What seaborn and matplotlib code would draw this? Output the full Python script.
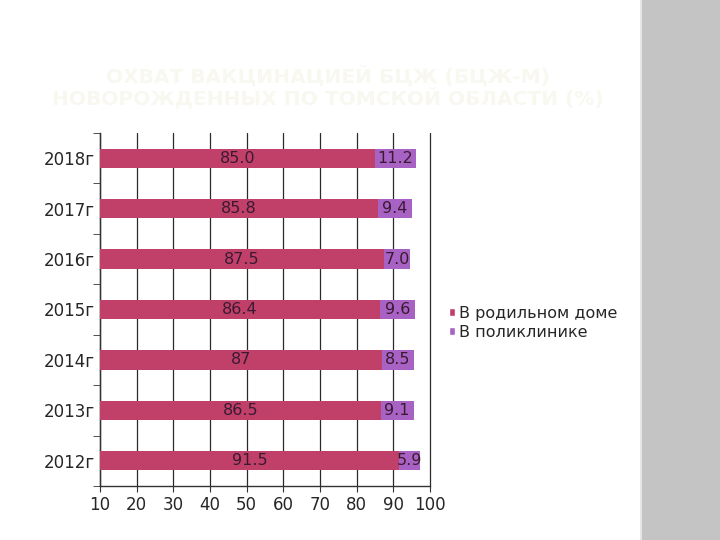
import matplotlib
matplotlib.use("Agg")
import matplotlib.pyplot as plt
import seaborn as sns
import pandas as pd
from matplotlib.patches import Rectangle, Patch
from matplotlib.ticker import FixedLocator

years = ["2018г", "2017г", "2016г", "2015г", "2014г", "2013г", "2012г"]
maternity = [85.0, 85.8, 87.5, 86.4, 87, 86.5, 91.5]
maternity_labels = ["85.0", "85.8", "87.5", "86.4", "87", "86.5", "91.5"]
clinic = [11.2, 9.4, 7.0, 9.6, 8.5, 9.1, 5.9]
clinic_labels = ["11.2", "9.4", "7.0", "9.6", "8.5", "9.1", "5.9"]
series_names = ["В родильном доме", "В поликлинике"]
title_text = "ОХВАТ ВАКЦИНАЦИЕЙ БЦЖ (БЦЖ-М)\nНОВОРОЖДЕННЫХ ПО ТОМСКОЙ ОБЛАСТИ (%)"

sns.set_style("white")
plt.rcParams["font.family"] = ["DejaVu Sans"]

c1 = "#c0406a"
c2 = "#a862c4"

fig = plt.figure(figsize=(7.2, 5.4), dpi=100)
fig.patch.set_facecolor("white")

# decorative gray panel on right
fig.patches.append(Rectangle((642/720, 0), 78/720, 1, transform=fig.transFigure,
                             facecolor="#c4c4c4", edgecolor="none", zorder=0))
fig.patches.append(Rectangle((640/720, 0), 2/720, 1, transform=fig.transFigure,
                             facecolor="#e6e6e6", edgecolor="none", zorder=0))

ax = fig.add_axes([100/720, 1 - 486/540, 330/720, 353/540])

df = pd.DataFrame({"year": years, "m": maternity, "total": [a + b for a, b in zip(maternity, clinic)]})
sns.barplot(data=df, y="year", x="total", color=c2, width=0.38, ax=ax, saturation=1,
            linewidth=0, zorder=2)
sns.barplot(data=df, y="year", x="m", color=c1, width=0.38, ax=ax, saturation=1,
            linewidth=0, zorder=3)

for i, (m, c, ml, cl) in enumerate(zip(maternity, clinic, maternity_labels, clinic_labels)):
    ax.text((10 + m) / 2, i, ml, ha="center", va="center", fontsize=11.5, color="#3a1a30", zorder=5)
    ax.text(m + c / 2, i, cl, ha="center", va="center", fontsize=11.5, color="#3a1a30", zorder=5)

ax.set_xlim(10, 100)
ax.set_ylim(6.5, -0.5)
ax.set_xticks(range(10, 101, 10))
ax.set_xlabel("")
ax.set_ylabel("")
ax.tick_params(axis="x", labelsize=12, length=4, direction="out", color="#333333", bottom=True)
ax.tick_params(axis="y", which="major", length=0, labelsize=12, pad=4)
ax.yaxis.set_minor_locator(FixedLocator([i - 0.5 for i in range(8)]))
ax.tick_params(axis="y", which="minor", length=5, left=True, color="#333333")
ax.xaxis.grid(True, color="#2a2a2a", linewidth=0.9, zorder=0)
for gl in ax.get_xgridlines():
    gl.set_clip_on(False)
ax.set_axisbelow(True)
for s in ["top", "right"]:
    ax.spines[s].set_visible(False)
for s in ["left", "bottom"]:
    ax.spines[s].set_color("#333333")
    ax.spines[s].set_linewidth(1)

handles = [Patch(facecolor=c1), Patch(facecolor=c2)]
fig.legend(handles, series_names, loc="center left", bbox_to_anchor=(449/720, 1 - 323/540),
           frameon=False, fontsize=11.5, handlelength=0.4, handleheight=0.4, handletextpad=0.2,
           labelspacing=0.25, borderaxespad=0, borderpad=0)

fig.text(328/720, 1 - 87/540, title_text, ha="center", va="center", fontsize=14.5,
         color="#f8f8f0", fontweight="bold", linespacing=1.05)

fig.savefig("out.png", dpi=100)
